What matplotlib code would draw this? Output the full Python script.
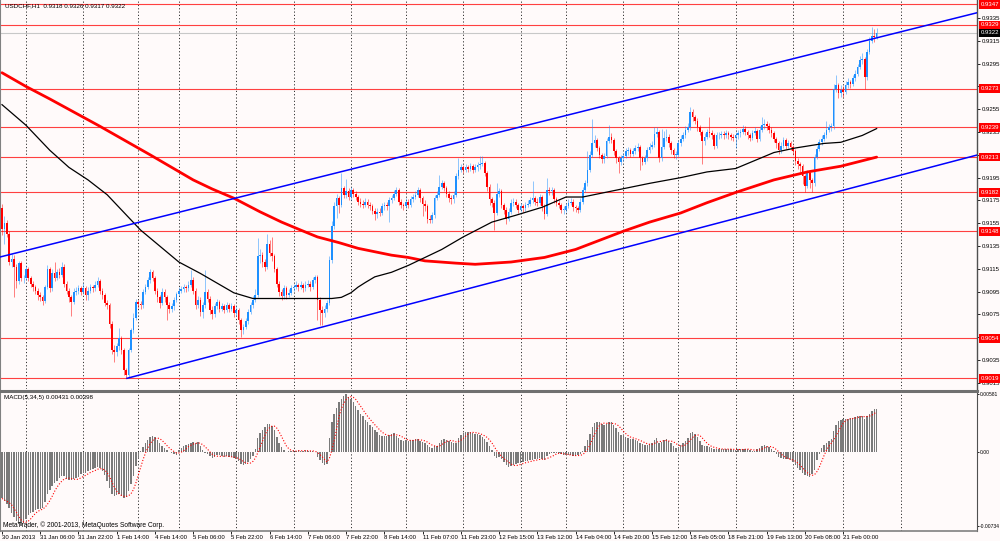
import numpy as np
import pandas as pd
import matplotlib
matplotlib.use('Agg')
import matplotlib.pyplot as plt
import matplotlib.transforms as mtransforms

plt.rcParams['font.family'] = ['Liberation Sans', 'DejaVu Sans']

# ---- data (prices in pips, 9150 -> 0.9150) ----
first_open = 9168
closes = [
    9150, 9155, 9146, 9121, 9124, 9117, 9104, 9120, 9107, 9107, 9115, 9107, 9102, 9099, 9096, 9092, 9090, 9087, 9099, 9115,
    9098, 9111, 9107, 9112, 9110, 9117, 9102, 9096, 9090, 9086, 9095, 9096, 9098, 9095, 9098, 9092, 9096, 9099, 9098, 9101,
    9104, 9096, 9092, 9085, 9083, 9067, 9044, 9042, 9047, 9054, 9044, 9026, 9022, 9044, 9061, 9072, 9086, 9084, 9083, 9095,
    9099, 9105, 9112, 9107, 9096, 9090, 9085, 9095, 9090, 9083, 9080, 9082, 9088, 9093, 9096, 9097, 9099, 9098, 9101, 9105,
    9096, 9083, 9088, 9077, 9083, 9095, 9089, 9079, 9075, 9082, 9086, 9080, 9082, 9079, 9083, 9080, 9082, 9076, 9079, 9070,
    9061, 9064, 9069, 9077, 9083, 9088, 9092, 9126, 9127, 9121, 9117, 9137, 9129, 9126, 9115, 9102, 9095, 9091, 9098, 9092,
    9094, 9098, 9099, 9101, 9099, 9101, 9098, 9101, 9102, 9099, 9105, 9108, 9088, 9079, 9076, 9080, 9085, 9123, 9153, 9170,
    9177, 9171, 9186, 9180, 9183, 9178, 9184, 9181, 9178, 9174, 9172, 9171, 9174, 9171, 9170, 9166, 9163, 9165, 9164, 9170,
    9171, 9170, 9175, 9177, 9181, 9184, 9174, 9171, 9170, 9174, 9171, 9176, 9178, 9180, 9184, 9177, 9172, 9170, 9159, 9158,
    9162, 9177, 9180, 9187, 9190, 9186, 9181, 9177, 9176, 9180, 9196, 9202, 9204, 9202, 9204, 9203, 9205, 9202, 9204, 9206,
    9207, 9208, 9199, 9187, 9176, 9173, 9164, 9181, 9183, 9171, 9167, 9159, 9165, 9173, 9174, 9171, 9167, 9170, 9168, 9171,
    9172, 9175, 9177, 9174, 9173, 9178, 9170, 9163, 9184, 9183, 9184, 9176, 9173, 9171, 9167, 9167, 9170, 9173, 9174, 9169,
    9168, 9167, 9174, 9184, 9190, 9202, 9215, 9225, 9228, 9221, 9215, 9211, 9214, 9227, 9231, 9228, 9218, 9212, 9209, 9212,
    9214, 9218, 9219, 9216, 9218, 9221, 9222, 9212, 9209, 9212, 9219, 9222, 9224, 9233, 9235, 9212, 9222, 9230, 9231, 9225,
    9219, 9215, 9215, 9225, 9229, 9232, 9237, 9239, 9253, 9248, 9245, 9239, 9235, 9227, 9231, 9235, 9234, 9232, 9223, 9232,
    9232, 9233, 9232, 9234, 9232, 9231, 9230, 9232, 9234, 9235, 9238, 9235, 9232, 9230, 9234, 9236, 9229, 9237, 9241, 9242,
    9240, 9237, 9234, 9229, 9225, 9219, 9223, 9228, 9223, 9225, 9222, 9218, 9210, 9207, 9205, 9196, 9188, 9199, 9193, 9190,
    9213, 9220, 9226, 9229, 9232, 9237, 9239, 9240, 9273, 9276, 9269, 9272, 9270, 9276, 9279, 9277, 9282, 9286, 9292, 9298,
    9299, 9283, 9305, 9315, 9319, 9318, 9322,
]
highs = [
    9172, 9161, 9158, 9148, 9128, 9127, 9119, 9122, 9122, 9110, 9118, 9117, 9109, 9104, 9101, 9098, 9095, 9092, 9101, 9118,
    9117, 9115, 9121, 9115, 9116, 9121, 9119, 9104, 9098, 9092, 9098, 9099, 9101, 9100, 9103, 9100, 9099, 9102, 9101, 9104,
    9108, 9106, 9098, 9094, 9088, 9085, 9069, 9048, 9050, 9063, 9056, 9046, 9028, 9046, 9063, 9076, 9089, 9088, 9087, 9097,
    9102, 9108, 9115, 9114, 9109, 9098, 9092, 9098, 9097, 9092, 9086, 9085, 9090, 9095, 9099, 9100, 9102, 9101, 9104, 9114,
    9108, 9098, 9091, 9090, 9086, 9114, 9097, 9091, 9082, 9085, 9089, 9088, 9085, 9084, 9086, 9085, 9085, 9084, 9082, 9081,
    9072, 9067, 9072, 9080, 9086, 9091, 9097, 9142, 9132, 9130, 9124, 9146, 9140, 9143, 9128, 9117, 9104, 9097, 9101, 9100,
    9097, 9101, 9102, 9104, 9103, 9104, 9103, 9104, 9105, 9104, 9108, 9110, 9110, 9090, 9082, 9083, 9088, 9126, 9157, 9174,
    9181, 9179, 9199, 9188, 9194, 9186, 9187, 9186, 9183, 9180, 9177, 9175, 9177, 9176, 9174, 9172, 9168, 9168, 9168, 9173,
    9174, 9174, 9178, 9180, 9184, 9187, 9186, 9176, 9173, 9177, 9176, 9179, 9181, 9183, 9187, 9186, 9179, 9175, 9172, 9162,
    9165, 9180, 9183, 9197, 9193, 9192, 9188, 9183, 9180, 9183, 9199, 9212, 9207, 9206, 9207, 9206, 9208, 9207, 9207, 9209,
    9214, 9214, 9210, 9201, 9189, 9178, 9175, 9190, 9186, 9185, 9173, 9169, 9168, 9176, 9177, 9176, 9173, 9173, 9172, 9174,
    9175, 9178, 9192, 9179, 9177, 9181, 9180, 9172, 9195, 9187, 9187, 9186, 9178, 9175, 9173, 9170, 9173, 9176, 9177, 9176,
    9171, 9170, 9177, 9187, 9193, 9218, 9218, 9246, 9232, 9230, 9223, 9217, 9217, 9230, 9241, 9234, 9230, 9220, 9214, 9215,
    9217, 9221, 9222, 9221, 9221, 9224, 9225, 9224, 9214, 9215, 9222, 9225, 9227, 9239, 9239, 9237, 9238, 9236, 9238, 9233,
    9227, 9221, 9218, 9228, 9232, 9235, 9240, 9243, 9257, 9255, 9250, 9247, 9241, 9237, 9234, 9238, 9248, 9237, 9234, 9235,
    9235, 9236, 9236, 9237, 9236, 9234, 9233, 9235, 9237, 9238, 9241, 9240, 9237, 9234, 9237, 9239, 9238, 9240, 9248, 9246,
    9245, 9243, 9239, 9236, 9231, 9227, 9226, 9231, 9230, 9228, 9227, 9224, 9220, 9212, 9209, 9207, 9198, 9202, 9201, 9195,
    9216, 9223, 9229, 9232, 9235, 9245, 9242, 9243, 9277, 9285, 9278, 9276, 9275, 9280, 9282, 9281, 9285, 9289, 9295, 9302,
    9304, 9301, 9308, 9318, 9327, 9325, 9326,
]
lows = [
    9145, 9137, 9143, 9118, 9117, 9090, 9098, 9102, 9104, 9103, 9105, 9104, 9099, 9096, 9093, 9088, 9087, 9083, 9085, 9097,
    9095, 9096, 9104, 9105, 9107, 9108, 9099, 9093, 9086, 9074, 9084, 9092, 9093, 9092, 9093, 9088, 9088, 9094, 9095, 9096,
    9099, 9093, 9089, 9082, 9080, 9063, 9040, 9033, 9039, 9044, 9040, 9022, 9019, 9020, 9042, 9059, 9070, 9081, 9080, 9081,
    9093, 9097, 9103, 9104, 9093, 9086, 9081, 9083, 9086, 9070, 9076, 9077, 9079, 9086, 9091, 9094, 9095, 9095, 9096, 9099,
    9093, 9080, 9081, 9074, 9072, 9081, 9086, 9075, 9071, 9073, 9080, 9077, 9078, 9076, 9077, 9077, 9078, 9073, 9074, 9067,
    9055, 9058, 9062, 9067, 9075, 9081, 9086, 9090, 9120, 9117, 9113, 9115, 9126, 9122, 9112, 9099, 9091, 9088, 9089, 9089,
    9090, 9092, 9096, 9097, 9096, 9097, 9095, 9096, 9099, 9096, 9097, 9103, 9070, 9066, 9066, 9073, 9077, 9083, 9120, 9150,
    9160, 9164, 9169, 9177, 9177, 9175, 9175, 9178, 9175, 9171, 9169, 9168, 9169, 9168, 9167, 9163, 9158, 9160, 9161, 9162,
    9167, 9167, 9156, 9173, 9175, 9179, 9171, 9168, 9167, 9168, 9168, 9169, 9174, 9176, 9178, 9174, 9161, 9166, 9155, 9155,
    9155, 9160, 9175, 9178, 9185, 9183, 9178, 9174, 9172, 9173, 9178, 9194, 9200, 9199, 9200, 9200, 9201, 9199, 9200, 9201,
    9203, 9205, 9196, 9183, 9171, 9169, 9149, 9162, 9178, 9168, 9163, 9154, 9157, 9163, 9170, 9168, 9164, 9165, 9165, 9166,
    9169, 9170, 9173, 9171, 9170, 9171, 9166, 9159, 9161, 9180, 9180, 9173, 9170, 9168, 9164, 9163, 9165, 9168, 9171, 9166,
    9165, 9164, 9165, 9172, 9182, 9188, 9200, 9213, 9222, 9218, 9212, 9208, 9208, 9212, 9225, 9225, 9215, 9208, 9199, 9206,
    9210, 9212, 9215, 9213, 9214, 9216, 9218, 9202, 9206, 9207, 9210, 9217, 9220, 9222, 9231, 9209, 9210, 9220, 9227, 9222,
    9216, 9212, 9211, 9213, 9223, 9227, 9230, 9235, 9237, 9245, 9242, 9236, 9232, 9207, 9224, 9229, 9231, 9229, 9220, 9221,
    9229, 9230, 9229, 9230, 9229, 9228, 9227, 9221, 9229, 9231, 9233, 9232, 9229, 9227, 9228, 9232, 9226, 9227, 9235, 9238,
    9237, 9234, 9231, 9226, 9221, 9216, 9217, 9221, 9220, 9221, 9219, 9215, 9206, 9203, 9200, 9189, 9182, 9186, 9186, 9182,
    9188, 9211, 9218, 9224, 9227, 9230, 9235, 9236, 9238, 9270, 9265, 9266, 9266, 9268, 9274, 9274, 9275, 9280, 9284, 9290,
    9295, 9273, 9281, 9303, 9313, 9314, 9317,
]
# MACD main line in units of 0.0001
macd = [
    -46, -49, -51, -55, -60, -64, -68, -71, -73.4, -70, -66, -62, -60, -59, -57, -56, -56, -55, -50, -42,
    -38, -34, -31, -29, -26, -24, -24, -27, -28, -28, -27, -26, -25, -22, -21, -21, -19, -18, -17, -16,
    -15, -16, -19, -23, -29, -36, -42, -44, -43, -42, -44, -46, -45, -39, -32, -24, -14, -6, 1, 5,
    9, 12, 15, 16, 15, 12, 9, 6, 4, 2, 0, -1, -2, -3, 2, 4, 6, 7, 8, 9,
    10, 9, 10, 6, 2, -1, -2, -4, -6, -5, -3, -3, -4, -5, -4, -5, -5, -6, -7, -9,
    -12, -13, -12, -10, -7, -4, 3, 14, 19, 22, 25, 28, 28, 26, 22, 15, 9, 5, 2, 0,
    1, 1, 2, 1, 2, 1, 1, 2, 1, 1, 1, 0, -5, -8, -11, -13, -12, 14, 30, 38,
    44, 50, 53, 56, 58.1, 55, 53, 50, 46, 42, 38, 36, 32, 30, 27, 25, 22, 20, 17, 16,
    16, 16, 17, 18, 19, 16, 14, 12, 11, 12, 11, 12, 12, 13, 13, 11, 10, 9, 7, 5,
    4, 6, 6, 9, 12, 13, 12, 11, 10, 9, 9, 14, 17, 19, 20, 20, 20, 19, 18, 18,
    17, 15, 13, 10, 6, 2, -4, -6, -5, -7, -10, -13, -15, -14, -13, -12, -11, -11, -10, -9,
    -9, -8, -8, -7, -7, -6, -7, -8, -4, -2, -1, -1, -1, -1, -2, -3, -3, -3, -3, -4,
    -4, -3, -2, 1, 6, 12, 18, 25, 29, 30, 30, 28, 27, 28, 30, 30, 27, 24, 20, 17,
    16, 15, 14, 13, 13, 12, 11, 9, 8, 7, 7, 8, 9, 12, 14, 9, 10, 12, 13, 11,
    9, 6, 4, 5, 7, 9, 11, 14, 19, 20, 18, 15, 11, 7, 6, 6, 5, 4, 3, 3,
    3, 3, 3, 3, 3, 3, 2, 2, 3, 3, 3, 3, 3, 2, 1, 1, 3, 4, 6, 7,
    6, 5, 3, 1, -2, -5, -6, -7, -7, -7, -8, -10, -13, -16, -18, -21, -23, -24, -25, -22,
    -18, -8, -2, 4, 7, 9, 11, 13, 21, 27, 31, 32, 33, 33, 33, 34, 34, 35, 36, 36,
    36, 33, 36, 38, 41, 43, 43.1,
]

# moving averages read at a few bars (bar index, price in pips)
ma_red_bar = [0, 10, 20, 41, 62, 80, 88, 97, 108, 117, 125, 132, 141, 149, 156, 163, 170, 177, 190, 198,
              213, 227, 240, 250, 260, 271, 284, 295, 307, 323, 337, 351, 366]
ma_red_val = [9287, 9275, 9264, 9240, 9215, 9193, 9185, 9177, 9165, 9156, 9149, 9143, 9138, 9133, 9130, 9127, 9125, 9122, 9120, 9119,
              9121, 9125, 9132, 9140, 9148, 9156, 9164, 9173, 9182, 9193, 9200, 9205, 9213]
ma_black_bar = [0, 10, 20, 28, 36, 44, 58, 74, 83, 97, 105, 118, 132, 138, 142, 146, 149, 152, 156, 163, 170, 177, 184, 193,
                205, 215, 226, 236, 243, 257, 271, 284, 295, 307, 323, 332, 344, 351, 360, 366]
ma_black_val = [9259, 9241, 9219, 9204, 9193, 9180, 9149, 9121, 9111, 9094, 9089, 9089, 9089, 9089, 9090, 9094, 9099, 9103, 9108,
                9112, 9118, 9125, 9132, 9143, 9156, 9162, 9169, 9178, 9178, 9184, 9190, 9195, 9200, 9203, 9217, 9221, 9225,
                9226, 9232, 9238]

# trend channel (start/end bar, start/end price)
chan_upper_bar = [-0.84, 408.0]
chan_upper_val = [0.91254, 0.93396]
chan_lower_bar = [52.3, 408.0]
chan_lower_val = [0.90190, 0.92148]

levels = [0.9347, 0.9329, 0.9273, 0.9239, 0.9213, 0.9182, 0.9148, 0.9054, 0.9019]
bid = 0.9322

day_lines = [10, 34, 57, 74, 98, 122, 146, 169, 193, 217, 236, 260, 283, 307, 331, 352, 376]
date_labels = ['30 Jan 2013', '31 Jan 06:00', '31 Jan 22:00', '1 Feb 14:00', '4 Feb 14:00', '5 Feb 06:00',
               '5 Feb 22:00', '6 Feb 14:00', '7 Feb 06:00', '7 Feb 22:00', '8 Feb 14:00', '11 Feb 07:00',
               '11 Feb 23:00', '12 Feb 15:00', '13 Feb 12:00', '14 Feb 04:00', '14 Feb 20:00', '15 Feb 12:00',
               '18 Feb 05:00', '18 Feb 21:00', '19 Feb 13:00', '20 Feb 08:00', '21 Feb 00:00']
price_ticks = [0.9015 + 0.002 * k for k in range(17)]

# ---- figure ----
bg = '#fffafa'
fig = plt.figure(figsize=(10, 5.41), dpi=100)
fig.patch.set_facecolor(bg)
ax = fig.add_axes([0.0, 152 / 541, 0.977, 389 / 541])
ax2 = fig.add_axes([0.0, 10.5 / 541, 0.977, 139.5 / 541])
for a in (ax, ax2):
    a.set_facecolor(bg)
    a.set_xlim(-0.84, 408.0)
    for xl in day_lines:
        a.axvline(xl, color='#303030', lw=0.7, ls=(0, (1.2, 2.2)), zorder=1)

ax.set_ylim(0.900963, 0.935079)

# candles
x = np.arange(len(closes))
c = np.array(closes) / 1e4
o = np.concatenate([[first_open], closes[:-1]]) / 1e4
h = np.maximum(np.array(highs) / 1e4, np.maximum(o, c))
l = np.minimum(np.array(lows) / 1e4, np.minimum(o, c))
up = c >= o
cols = np.where(up, '#1e90ff', '#ff0000')

for lv in levels:
    ax.axhline(lv, color='#ff4040', lw=0.8, zorder=2)
ax.axhline(bid, color='#c8c8c8', lw=0.8, zorder=2)

ax.vlines(x, l, h, colors=cols, lw=0.7, alpha=0.5, zorder=3)
body = c - o
body = np.where(np.abs(body) < 0.00003, 0.00003, body)
ax.bar(x, body, bottom=o, width=0.7, color=cols, lw=0, zorder=4)

ax.plot(ma_red_bar, np.array(ma_red_val) / 1e4, color='#ff0000', lw=2.0, zorder=5,
        solid_capstyle='round', solid_joinstyle='round')
ax.plot(ma_black_bar, np.array(ma_black_val) / 1e4, color='#000000', lw=0.9, zorder=5,
        solid_joinstyle='round')
ax.plot(chan_upper_bar, chan_upper_val, color='#0000ff', lw=1.1, zorder=6)
ax.plot(chan_lower_bar, chan_lower_val, color='#0000ff', lw=1.1, zorder=6)

# axes styling
ax.yaxis.tick_right()
ax.set_yticks(price_ticks)
ax.set_yticklabels([f'{v:.4f}' for v in price_ticks])
ax.tick_params(axis='y', direction='out', length=2, width=0.6, pad=1.5, labelsize=4.3, colors='#000000')
ax.set_xticks([])
ax.spines['top'].set_visible(False)
ax.spines['bottom'].set_visible(False)
ax.spines['left'].set_color('#808080')
ax.spines['right'].set_color('#505050')
ax.spines['right'].set_linewidth(1.0)

blend = mtransforms.blended_transform_factory(ax.transAxes, ax.transData)
for lv in levels:
    ax.text(1.004, lv, f'{lv:.4f}', transform=blend, fontsize=4.3, color='white', va='center', ha='left',
            clip_on=False, zorder=10,
            bbox=dict(boxstyle='square,pad=0.3', fc='#ff0000', ec='none'))
ax.text(1.004, bid, f'{bid:.4f}', transform=blend, fontsize=4.3, color='white', va='center', ha='left',
        clip_on=False, zorder=10, bbox=dict(boxstyle='square,pad=0.3', fc='#000000', ec='none'))

# MACD panel
m = np.array(macd) / 1e4
signal = pd.Series(m).rolling(5, min_periods=1).mean().values
ax2.set_ylim(-0.00778, 0.00607)
ax2.bar(x, m, width=0.6, color='#7a7a7a', lw=0, zorder=3)
ax2.plot(x, signal, color='#ff0000', lw=0.8, ls=(0, (1, 1.6)), zorder=4)
ax2.yaxis.tick_right()
ax2.set_yticks([0.00581, 0.0, -0.00734])
ax2.set_yticklabels(['0.00581', '0.00', '-0.00734'])
ax2.tick_params(axis='y', direction='out', length=1.5, width=0.6, pad=0.8, labelsize=3.6)
ax2.set_xticks(np.arange(len(date_labels)) * 16)
ax2.set_xticklabels(date_labels)
ax2.tick_params(axis='x', direction='out', length=2, width=0.6, pad=1.5, labelsize=4.3)
for lab in ax2.get_xticklabels():
    lab.set_ha('left')
ax2.spines['top'].set_color('#707070')
ax2.spines['top'].set_linewidth(2.2)
ax2.spines['bottom'].set_color('#808080')
ax2.spines['bottom'].set_linewidth(1.2)
ax2.spines['left'].set_color('#808080')
ax2.spines['right'].set_color('#505050')

fig.text(0.005, 1 - 6 / 541, 'USDCHF,H1  0.9318 0.9326 0.9317 0.9322', fontsize=4.5, va='center', ha='left')
fig.text(0.004, 1 - 397.5 / 541, 'MACD(5,34,5) 0.00431 0.00398', fontsize=4.5, va='center', ha='left')
fig.text(0.003, 1 - 525 / 541, 'MetaTrader, © 2001-2013, MetaQuotes Software Corp.', fontsize=4.8,
         va='center', ha='left')

fig.savefig('out.png', dpi=100, facecolor=bg)
